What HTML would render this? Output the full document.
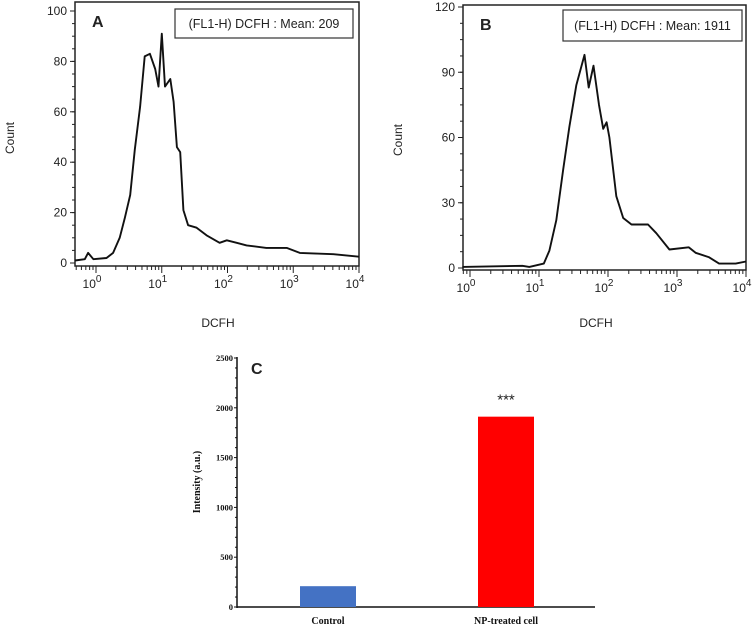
<!DOCTYPE html>
<html><head><meta charset="utf-8"><style>
html,body{margin:0;padding:0;background:#fff;}
svg{display:block;}
.s{font-family:"Liberation Sans",Arial,sans-serif;fill:#222;}
.r{font-family:"Liberation Serif","Times New Roman",serif;font-weight:bold;fill:#111;}
</style></head><body>
<svg id="c" width="753" height="627" viewBox="0 0 753 627"></svg>
<script>
const aLogX=[-0.32,-0.17,-0.12,-0.04,0.16,0.26,0.36,0.44,0.52,0.59,0.67,0.74,0.82,0.90,0.95,1.00,1.05,1.13,1.18,1.23,1.28,1.33,1.40,1.53,1.68,1.88,1.99,2.14,2.29,2.59,2.90,3.10,3.61,4.0];
const aCount=[1,1.5,4,1.5,2,4,10,18,27,45,62,82,83,77,70,91,70,73,64,46,44,21,15,14,11,8,9,8,7,6,6,4,3.5,2.5];
const bLogX=[-0.11,0.76,0.86,0.93,1.07,1.15,1.25,1.35,1.44,1.54,1.66,1.72,1.79,1.87,1.93,1.98,2.02,2.12,2.22,2.34,2.58,2.70,2.89,3.17,3.27,3.46,3.61,3.85,4.0];
const bCount=[0.5,1,0.5,1,2,8,22,45,65,84,98,83,93,75,64,67,60,33,23,20,20,16,8.5,9.5,7,5,2,2,3];
const aYTicks=[0,20,40,60,80,100];
const bYTicks=[0,30,60,90,120];
const xDecades=[0,1,2,3,4];
const barCats=["Control","NP-treated cell"];
const barVals=[209,1911];
const barTicks=[0,500,1000,1500,2000,2500];

const NS="http://www.w3.org/2000/svg";
const svg=document.getElementById('c');
function mk(tag,attrs,parent,text){const e=document.createElementNS(NS,tag);for(const k in attrs)e.setAttribute(k,attrs[k]);if(text!==undefined)e.textContent=text;(parent||svg).appendChild(e);return e;}

function hist(o){
  const g=mk('g',{});
  
  
  const X=v=>o.x0+v*o.dec, Y=v=>o.yb-v*o.ys;
  const f=mk('rect',{x:o.L,y:o.T,width:o.R-o.L,height:o.B-o.T,fill:'none',stroke:'#222','stroke-width':1.5},g);
  
  o.yt.forEach(v=>{mk('line',{x1:o.L-5,x2:o.L,y1:Y(v),y2:Y(v),stroke:'#222'},g);
    const t=mk('text',{x:o.L-8,y:Y(v)+4,'text-anchor':'end','font-size':12,class:'s'},g,String(v));
    });
  const step=o.yt[1]-o.yt[0];
  for(let v=0;v<=o.yt[o.yt.length-1];v+=step/4){mk('line',{x1:o.L-3,x2:o.L,y1:Y(v),y2:Y(v),stroke:'#222'},g);}
  xDecades.forEach(d=>{mk('line',{x1:X(d),x2:X(d),y1:o.B,y2:o.B+7,stroke:'#222'},g);
    const t=mk('text',{x:X(d)-4,y:o.B+22,'text-anchor':'middle','font-size':12,class:'s'},g);
    
    mk('tspan',{},t,'10');mk('tspan',{dy:-6,'font-size':10},t,String(d));
    if(d<4)for(let m=2;m<10;m++){mk('line',{x1:X(d+Math.log10(m)),x2:X(d+Math.log10(m)),y1:o.B,y2:o.B+4,stroke:'#222'},g);}
  });
  for(let m=5;m<10;m++){const xx=X(-1+Math.log10(m));if(xx>o.L)mk('line',{x1:xx,x2:xx,y1:o.B,y2:o.B+4,stroke:'#222'},g);}
  let d='';o.lx.forEach((v,i)=>{d+=(i?'L':'M')+X(v).toFixed(1)+','+Y(o.cn[i]).toFixed(1);});
  const p=mk('path',{d:d,fill:'none',stroke:'#111','stroke-width':1.9,'stroke-linejoin':'round'},g);
  
  const lb=mk('rect',{x:o.lg[0],y:o.lg[1],width:o.lg[2],height:o.lg[3],fill:'#fff',stroke:'#333','stroke-width':1.2},g);
  
  const lt=mk('text',{x:o.lg[0]+o.lg[2]/2,y:o.lg[1]+o.lg[3]/2+4.5,'text-anchor':'middle','font-size':12.5,class:'s'},g,o.legend);
  
  const pl=mk('text',{x:o.L+17,y:o.T+25,'font-size':16,'font-weight':'bold',class:'s',fill:'#000'},g,o.letter);
  
  const yt=mk('text',{x:0,y:0,transform:`translate(${o.cx},${o.cy}) rotate(-90)`,'text-anchor':'middle','font-size':12,class:'s'},g,'Count');
  
  const xt=mk('text',{x:o.xtx,y:327,'text-anchor':'middle','font-size':12,class:'s'},g,'DCFH');
  
}
hist({name:'panel-a-histogram',L:75,R:359,T:2,B:266,x0:96,dec:65.75,yb:263,ys:2.52,yt:aYTicks,lx:aLogX,cn:aCount,lg:[175,9,178,29],legend:'(FL1-H) DCFH : Mean: 209',letter:'A',cx:14,cy:138,xtx:218});
hist({name:'panel-b-histogram',L:463,R:746,T:5,B:270,x0:470,dec:69,yb:268,ys:2.175,yt:bYTicks,lx:bLogX,cn:bCount,lg:[563,10,179,31],legend:'(FL1-H) DCFH : Mean: 1911',letter:'B',cx:402,cy:140,xtx:596});

const gc=mk('g',{});


const CY=v=>607-v*0.0996;
const cx0=237, cx1=595;
const catX=[328,506];
mk('line',{x1:cx0,x2:cx0,y1:357,y2:608,stroke:'#111','stroke-width':1.5},gc);
mk('line',{x1:cx0,x2:cx1,y1:607,y2:607,stroke:'#111','stroke-width':1.5},gc);
barTicks.forEach(v=>{mk('line',{x1:cx0-3,x2:cx0,y1:CY(v),y2:CY(v),stroke:'#111'},gc);
  const t=mk('text',{x:cx0-4,y:CY(v)+3,'text-anchor':'end','font-size':8.5,class:'r'},gc,String(v));
  });
for(let v=100;v<2500;v+=100){if(v%500)mk('line',{x1:cx0-2,x2:cx0,y1:CY(v),y2:CY(v),stroke:'#111'},gc);}
const cols=['#4472c4','#ff0000'];
barCats.forEach((c,i)=>{
  const b=mk('rect',{x:catX[i]-28,y:CY(barVals[i]),width:56,height:607-CY(barVals[i]),fill:cols[i]},gc);
  
  const t=mk('text',{x:catX[i],y:624,'text-anchor':'middle','font-size':10,class:'r'},gc,c);
  
});
const st=mk('text',{x:catX[1],y:CY(barVals[1])-12,'text-anchor':'middle','font-size':15,class:'s',fill:'#333'},gc,'***');

const ct=mk('text',{x:0,y:0,transform:'translate(200,482) rotate(-90)','text-anchor':'middle','font-size':10,class:'r'},gc,'Intensity (a.u.)');

const cl=mk('text',{x:251,y:374,'font-size':16,'font-weight':'bold',class:'s',fill:'#000'},gc,'C');

</script>
</body></html>
